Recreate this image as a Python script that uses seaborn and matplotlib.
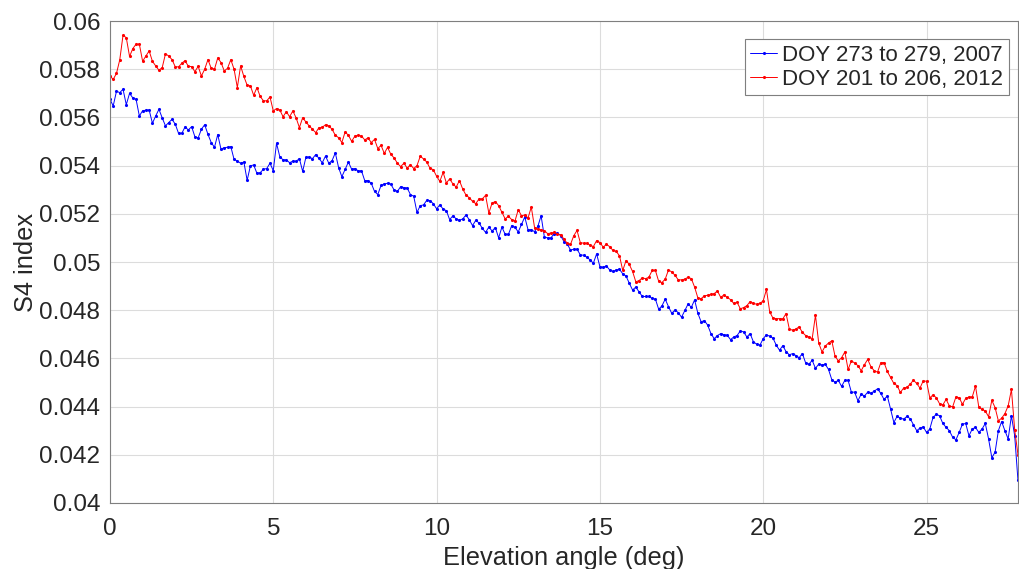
import numpy as np
import pandas as pd
import matplotlib
matplotlib.use("Agg")
import matplotlib.pyplot as plt
from matplotlib.ticker import FuncFormatter
import seaborn as sns

# S4 index vs elevation angle, 0.1 deg bins
s4_2007 = [
    0.05675, 0.05648, 0.05709, 0.05703, 0.05717, 0.05653, 0.05700, 0.05681, 0.05675, 0.05606,
    0.05628, 0.05630, 0.05631, 0.05576, 0.05606, 0.05634, 0.05598, 0.05565, 0.05579, 0.05592,
    0.05572, 0.05534, 0.05534, 0.05561, 0.05548, 0.05562, 0.05520, 0.05515, 0.05551, 0.05570,
    0.05530, 0.05496, 0.05476, 0.05529, 0.05468, 0.05475, 0.05476, 0.05479, 0.05426, 0.05419,
    0.05410, 0.05415, 0.05339, 0.05399, 0.05403, 0.05368, 0.05371,
    0.05385, 0.05388, 0.05410, 0.05379, 0.05493, 0.05437, 0.05424, 0.05424, 0.05412, 0.05419,
    0.05418, 0.05429, 0.05376, 0.05435, 0.05436, 0.05429, 0.05446, 0.05430, 0.05412, 0.05440,
    0.05410, 0.05421, 0.05453, 0.05392, 0.05354, 0.05385, 0.05415, 0.05385, 0.05388, 0.05378,
    0.05379, 0.05338, 0.05338, 0.05327, 0.05293, 0.05280, 0.05318, 0.05324, 0.05327, 0.05323,
    0.05299, 0.05293, 0.05313, 0.05309, 0.05307,
    0.05280, 0.05273, 0.05206, 0.05234, 0.05237, 0.05256, 0.05255, 0.05242, 0.05221, 0.05237,
    0.05220, 0.05213, 0.05176, 0.05192, 0.05179, 0.05173, 0.05179, 0.05195, 0.05176, 0.05151,
    0.05173, 0.05162, 0.05140, 0.05123, 0.05145, 0.05129, 0.05143, 0.05100, 0.05145, 0.05115,
    0.05115, 0.05151, 0.05144, 0.05125, 0.05156, 0.05187, 0.05134, 0.05134, 0.05126, 0.05148,
    0.05192, 0.05104, 0.05100, 0.05100, 0.05118, 0.05120,
    0.05109, 0.05085, 0.05075, 0.05050, 0.05053, 0.05053, 0.05030, 0.05028, 0.05020, 0.05009,
    0.04995, 0.05034, 0.04981, 0.04978, 0.04984, 0.04967, 0.04961, 0.04967, 0.04970, 0.04951,
    0.04942, 0.04912, 0.04884, 0.04896, 0.04876, 0.04857, 0.04857, 0.04857, 0.04849, 0.04846,
    0.04804, 0.04818, 0.04846, 0.04815, 0.04787, 0.04801, 0.04790, 0.04771, 0.04799, 0.04826,
    0.04812, 0.04843, 0.04787, 0.04752, 0.04757, 0.04738,
    0.04703, 0.04682, 0.04695, 0.04703, 0.04698, 0.04696, 0.04678, 0.04689, 0.04695, 0.04714,
    0.04710, 0.04689, 0.04703, 0.04669, 0.04659, 0.04655, 0.04682, 0.04698, 0.04692, 0.04684,
    0.04655, 0.04634, 0.04653, 0.04628, 0.04615, 0.04620, 0.04612, 0.04603, 0.04620, 0.04581,
    0.04576, 0.04592, 0.04559, 0.04576, 0.04573, 0.04576, 0.04554, 0.04512, 0.04501, 0.04509,
    0.04484, 0.04509, 0.04509, 0.04460, 0.04460, 0.04424,
    0.04452, 0.04444, 0.04460, 0.04456, 0.04464, 0.04474, 0.04455, 0.04430, 0.04444, 0.04390,
    0.04334, 0.04360, 0.04352, 0.04348, 0.04359, 0.04350, 0.04325, 0.04300, 0.04311, 0.04316,
    0.04293,
    0.04307, 0.04355, 0.04368, 0.04362, 0.04330, 0.04314, 0.04300, 0.04273, 0.04262, 0.04293,
    0.04327, 0.04330, 0.04279, 0.04307, 0.04314, 0.04293, 0.04307, 0.04330, 0.04266, 0.04188,
    0.04211, 0.04300, 0.04338, 0.04300, 0.04266, 0.04362, 0.04279, 0.04094,
]

s4_2012 = [
    0.05772, 0.05758, 0.05783, 0.05839, 0.05941, 0.05931, 0.05853, 0.05886, 0.05904, 0.05904,
    0.05833, 0.05855, 0.05876, 0.05833, 0.05814, 0.05796, 0.05807, 0.05864, 0.05855, 0.05840,
    0.05810, 0.05810, 0.05825, 0.05836, 0.05812, 0.05811, 0.05790, 0.05812, 0.05772, 0.05800,
    0.05840, 0.05804, 0.05800, 0.05847, 0.05828, 0.05793, 0.05804, 0.05840, 0.05800, 0.05724,
    0.05814, 0.05770, 0.05734, 0.05731, 0.05692, 0.05724, 0.05687,
    0.05669, 0.05669, 0.05685, 0.05627, 0.05637, 0.05631, 0.05603, 0.05624, 0.05603, 0.05627,
    0.05598, 0.05558, 0.05599, 0.05581, 0.05565, 0.05551, 0.05537, 0.05558, 0.05559, 0.05570,
    0.05565, 0.05551, 0.05526, 0.05516, 0.05496, 0.05540, 0.05526, 0.05501, 0.05523, 0.05526,
    0.05523, 0.05507, 0.05515, 0.05496, 0.05509, 0.05471, 0.05484, 0.05451, 0.05476, 0.05447,
    0.05432, 0.05410, 0.05396, 0.05410, 0.05390,
    0.05404, 0.05388, 0.05400, 0.05439, 0.05428, 0.05415, 0.05389, 0.05383, 0.05356, 0.05335,
    0.05372, 0.05328, 0.05345, 0.05324, 0.05311, 0.05338, 0.05303, 0.05278, 0.05267, 0.05252,
    0.05242, 0.05262, 0.05262, 0.05277, 0.05203, 0.05245, 0.05251, 0.05234, 0.05206, 0.05179,
    0.05190, 0.05176, 0.05170, 0.05217, 0.05192, 0.05195, 0.05183, 0.05228, 0.05143, 0.05137,
    0.05134, 0.05130, 0.05118, 0.05120, 0.05123, 0.05115,
    0.05114, 0.05095, 0.05078, 0.05073, 0.05109, 0.05131, 0.05081, 0.05078, 0.05078, 0.05070,
    0.05064, 0.05089, 0.05081, 0.05062, 0.05073, 0.05064, 0.05048, 0.05044, 0.05026, 0.04965,
    0.05006, 0.04990, 0.04961, 0.04918, 0.04923, 0.04934, 0.04931, 0.04937, 0.04965, 0.04965,
    0.04920, 0.04915, 0.04929, 0.04967, 0.04959, 0.04945, 0.04926, 0.04926, 0.04929, 0.04937,
    0.04931, 0.04896, 0.04851, 0.04848, 0.04860, 0.04862,
    0.04866, 0.04869, 0.04880, 0.04853, 0.04864, 0.04853, 0.04844, 0.04828, 0.04833, 0.04806,
    0.04811, 0.04819, 0.04836, 0.04828, 0.04825, 0.04828, 0.04839, 0.04886, 0.04793, 0.04767,
    0.04765, 0.04765, 0.04764, 0.04786, 0.04722, 0.04717, 0.04722, 0.04731, 0.04708, 0.04695,
    0.04689, 0.04682, 0.04779, 0.04664, 0.04627, 0.04651, 0.04664, 0.04673, 0.04609, 0.04590,
    0.04603, 0.04627, 0.04554, 0.04590, 0.04581, 0.04570,
    0.04549, 0.04574, 0.04596, 0.04565, 0.04549, 0.04543, 0.04582, 0.04583, 0.04546, 0.04521,
    0.04496, 0.04487, 0.04459, 0.04477, 0.04480, 0.04493, 0.04510, 0.04496, 0.04477, 0.04507,
    0.04505,
    0.04437, 0.04448, 0.04437, 0.04412, 0.04407, 0.04430, 0.04403, 0.04399, 0.04440, 0.04437,
    0.04410, 0.04434, 0.04440, 0.04440, 0.04485, 0.04399, 0.04388, 0.04382, 0.04358, 0.04426,
    0.04396, 0.04341, 0.04352, 0.04371, 0.04403, 0.04471, 0.04303, 0.04201,
]

labels = ["DOY 273 to 279, 2007", "DOY 201 to 206, 2012"]
colors = ["#0000ff", "#ff0000"]
y_ticks = [0.04, 0.042, 0.044, 0.046, 0.048, 0.05, 0.052, 0.054, 0.056, 0.058, 0.06]
x_ticks = [0, 5, 10, 15, 20, 25]

frames = []
for lab, vals in zip(labels, [s4_2007, s4_2012]):
    elev = np.round(np.arange(len(vals)) * 0.1, 1)
    frames.append(pd.DataFrame({"elev": elev, "s4": vals, "period": lab}))
df = pd.concat(frames, ignore_index=True)

sns.set_style("whitegrid")
plt.rcParams["font.family"] = ["Liberation Sans", "DejaVu Sans"]

fig = plt.figure(figsize=(10.2, 5.69), dpi=100)
ax = fig.add_axes([0.1078, 0.116, 0.8902, 0.847])

sns.lineplot(data=df, x="elev", y="s4", hue="period", hue_order=labels,
             palette=colors, marker=".", markersize=4.5, markeredgewidth=0,
             linewidth=0.7, ax=ax)

ax.set_xlim(0, 27.8)
ax.set_ylim(0.04, 0.06)
ax.set_xticks(x_ticks)
ax.set_yticks(y_ticks)
ax.yaxis.set_major_formatter(FuncFormatter(lambda v, p: f"{v:g}"))
ax.tick_params(axis="both", labelsize=17.5, colors="#262626", direction="in",
               length=5, width=0.6)
ax.tick_params(axis="y", pad=7)
ax.tick_params(axis="x", pad=11)
ax.grid(True, color="#dcdcdc", linewidth=0.8)
for sp in ax.spines.values():
    sp.set_color("#7f7f7f")
    sp.set_linewidth(0.8)

ax.set_xlabel("Elevation angle (deg)", fontsize=18.3, color="#262626", labelpad=4)
ax.set_ylabel("S4 index", fontsize=18.3, color="#262626", labelpad=1)

leg = ax.legend(loc="upper right", bbox_to_anchor=(1009 / 1020, 1 - 39 / 569),
                bbox_transform=fig.transFigure, borderaxespad=0, fontsize=16,
                frameon=True, fancybox=False, framealpha=1, edgecolor="#7f7f7f",
                handlelength=1.2, handletextpad=0.25, borderpad=0.25, labelspacing=0.15)
leg.get_frame().set_linewidth(0.8)
for t in leg.get_texts():
    t.set_color("#262626")

fig.savefig("out.png", dpi=100)
